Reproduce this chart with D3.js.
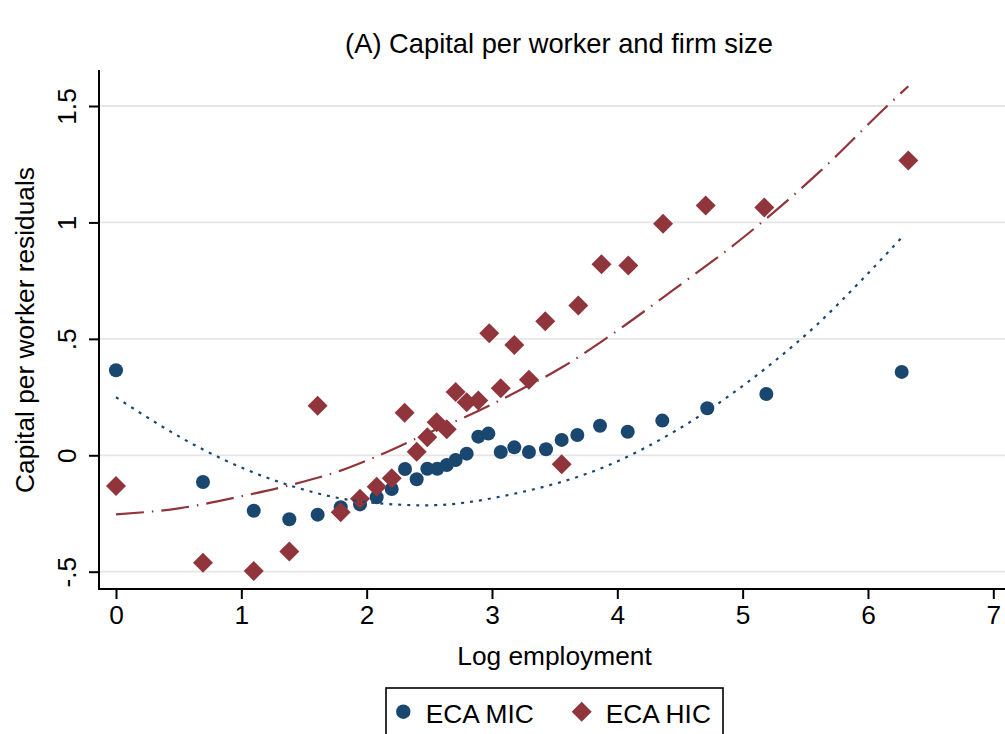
<!DOCTYPE html>
<html>
<head>
<meta charset="utf-8">
<script src="https://cdn.jsdelivr.net/npm/d3@7"></script>
<style>
  html, body { margin: 0; padding: 0; background: #ffffff; }
  svg { display: block; font-family: "Liberation Sans", Arial, Helvetica, sans-serif; }
</style>
</head>
<body>
<svg id="chart" width="1005" height="734"></svg>
<script>
// Binned scatter: log employment vs. capital-per-worker residuals
const micX = [0.000, 0.694, 1.099, 1.383, 1.609, 1.793, 1.947, 2.080, 2.200, 2.306,
              2.399, 2.484, 2.564, 2.639, 2.710, 2.798, 2.891, 2.971, 3.070, 3.178,
              3.295, 3.431, 3.556, 3.681, 3.862, 4.083, 4.359, 4.718, 5.189, 6.269];
const micY = [0.365, -0.115, -0.238, -0.275, -0.255, -0.223, -0.211, -0.180, -0.145, -0.059,
              -0.103, -0.058, -0.058, -0.042, -0.020, 0.007, 0.080, 0.093, 0.014, 0.034,
              0.014, 0.026, 0.066, 0.087, 0.127, 0.101, 0.149, 0.202, 0.263, 0.358];

const hicX = [0.000, 0.694, 1.099, 1.383, 1.609, 1.793, 1.947, 2.080, 2.200, 2.303,
              2.399, 2.484, 2.559, 2.639, 2.710, 2.798, 2.891, 2.978, 3.070, 3.178,
              3.295, 3.425, 3.556, 3.689, 3.874, 4.088, 4.365, 4.705, 5.173, 6.322];
const hicY = [-0.132, -0.462, -0.497, -0.413, 0.213, -0.245, -0.187, -0.135, -0.099, 0.183,
              0.015, 0.077, 0.142, 0.112, 0.272, 0.228, 0.235, 0.524, 0.288, 0.474,
              0.324, 0.576, -0.039, 0.643, 0.820, 0.815, 0.994, 1.073, 1.064, 1.266];

// Quadratic-fit curves, sampled along x
const micFitX = [0.000, 0.694, 1.383, 1.947, 2.479, 3.170, 3.968, 4.474, 5.245, 5.591, 5.936, 6.269];
const micFitY = [0.249, 0.025, -0.129, -0.198, -0.215, -0.166, -0.034, 0.108, 0.400, 0.560, 0.745, 0.935];
const hicFitX = [0.000, 0.500, 1.043, 1.383, 1.787, 2.106, 2.505, 2.851, 3.197, 3.569, 3.862, 4.447, 5.032, 5.617, 6.149, 6.322];
const hicFitY = [-0.254, -0.228, -0.171, -0.129, -0.067, 0.001, 0.099, 0.180, 0.273, 0.381, 0.484, 0.710, 0.947, 1.219, 1.498, 1.585];

const xTicks = [0, 1, 2, 3, 4, 5, 6, 7];
const yTicks = [-0.5, 0, 0.5, 1, 1.5];
const yTickLabels = ["-.5", "0", ".5", "1", "1.5"];

const titleText = "(A) Capital per worker and firm size";
const xTitle = "Log employment";
const yTitle = "Capital per worker residuals";
const seriesNames = ["ECA MIC", "ECA HIC"];

const NAVY = "#1a476f";
const MAROON = "#90353b";
const FONT = 26.3;
const TITLE_FONT = 27.3;

const svg = d3.select("#chart");

// Plot frame
const frame = { left: 99, right: 1005, top: 70, bottom: 589 };

const x = d3.scaleLinear().domain([0, 7]).range([116, 993.3]);
const y = d3.scaleLinear().domain([-0.5, 1.5]).range([571.7, 106]);

// Gridlines
svg.append("g")
  .selectAll("line")
  .data(yTicks)
  .join("line")
  .attr("x1", frame.left)
  .attr("x2", frame.right)
  .attr("y1", d => y(d))
  .attr("y2", d => y(d))
  .attr("stroke", "#e6e6e6")
  .attr("stroke-width", 1.8);

const line = d3.line().curve(d3.curveBasis).x(d => x(d[0])).y(d => y(d[1]));

// Markers
const gPts = svg.append("g");
gPts.selectAll("circle.mic")
  .data(d3.zip(micX, micY))
  .join("circle")
  .attr("class", "mic")
  .attr("cx", d => x(d[0]))
  .attr("cy", d => y(d[1]))
  .attr("r", 7)
  .attr("fill", NAVY);

const diamond = d3.symbol().type(d3.symbolSquare).size(200);
gPts.selectAll("path.hic")
  .data(d3.zip(hicX, hicY))
  .join("path")
  .attr("class", "hic")
  .attr("d", diamond)
  .attr("transform", d => `translate(${x(d[0])},${y(d[1])}) rotate(45)`)
  .attr("fill", MAROON);

// Fit lines
svg.append("path")
  .datum(d3.zip(micFitX, micFitY))
  .attr("d", d3.line().curve(d3.curveMonotoneX).x(d => x(d[0])).y(d => y(d[1])))
  .attr("fill", "none")
  .attr("stroke", NAVY)
  .attr("stroke-width", 2.2)
  .attr("stroke-dasharray", "3,6");

svg.append("path")
  .datum(d3.zip(hicFitX, hicFitY))
  .attr("d", d3.line().curve(d3.curveMonotoneX).x(d => x(d[0])).y(d => y(d[1])))
  .attr("fill", "none")
  .attr("stroke", MAROON)
  .attr("stroke-width", 2.2)
  .attr("stroke-dasharray", "28,8,1.5,8");

// Axes
const yAxis = d3.axisLeft(y)
  .tickValues(yTicks)
  .tickFormat((d, i) => yTickLabels[i])
  .tickSize(10)
  .tickSizeOuter(0);
const gy = svg.append("g").attr("transform", `translate(${frame.left},0)`).call(yAxis);
gy.select(".domain").remove();
gy.selectAll(".tick line").attr("stroke", "#000").attr("stroke-width", 2);
gy.selectAll(".tick text")
  .attr("x", null)
  .attr("dy", null)
  .attr("transform", "translate(-23,0) rotate(-90)")
  .attr("text-anchor", "middle")
  .attr("fill", "#000")
  .style("font-size", FONT + "px")
  .style("font-family", "Liberation Sans, Arial, sans-serif");

const xAxis = d3.axisBottom(x)
  .tickValues(xTicks)
  .tickFormat(d3.format("d"))
  .tickSize(10)
  .tickSizeOuter(0);
const gx = svg.append("g").attr("transform", `translate(0,${frame.bottom})`).call(xAxis);
gx.select(".domain").remove();
gx.selectAll(".tick line").attr("stroke", "#000").attr("stroke-width", 2);
gx.selectAll(".tick text")
  .attr("y", 35.3)
  .attr("dy", null)
  .attr("fill", "#000")
  .style("font-size", FONT + "px")
  .style("font-family", "Liberation Sans, Arial, sans-serif");

// Axis lines
svg.append("line")
  .attr("x1", frame.left).attr("x2", frame.left)
  .attr("y1", frame.top).attr("y2", frame.bottom + 1)
  .attr("stroke", "#000").attr("stroke-width", 2);
svg.append("line")
  .attr("x1", frame.left - 1).attr("x2", frame.right)
  .attr("y1", frame.bottom).attr("y2", frame.bottom)
  .attr("stroke", "#000").attr("stroke-width", 2);

// Titles
svg.append("text")
  .attr("x", 559).attr("y", 53)
  .attr("text-anchor", "middle")
  .style("font-size", TITLE_FONT + "px")
  .text(titleText);

svg.append("text")
  .attr("x", 554.5).attr("y", 665)
  .attr("text-anchor", "middle")
  .style("font-size", FONT + "px")
  .text(xTitle);

svg.append("text")
  .attr("transform", "translate(34,330) rotate(-90)")
  .attr("text-anchor", "middle")
  .style("font-size", FONT + "px")
  .text(yTitle);

// Legend
const lg = svg.append("g");
lg.append("rect")
  .attr("x", 386).attr("y", 688)
  .attr("width", 337).attr("height", 70)
  .attr("fill", "#fff")
  .attr("stroke", "#000")
  .attr("stroke-width", 1.6);
lg.append("circle")
  .attr("cx", 403.3).attr("cy", 711.7).attr("r", 7.2)
  .attr("fill", NAVY);
lg.append("text")
  .attr("x", 425.7).attr("y", 723.3)
  .style("font-size", FONT + "px")
  .text(seriesNames[0]);
lg.append("path")
  .attr("d", diamond)
  .attr("transform", "translate(581.7,711.7) rotate(45)")
  .attr("fill", MAROON);
lg.append("text")
  .attr("x", 605.7).attr("y", 723.3)
  .style("font-size", FONT + "px")
  .text(seriesNames[1]);
</script>
</body>
</html>
